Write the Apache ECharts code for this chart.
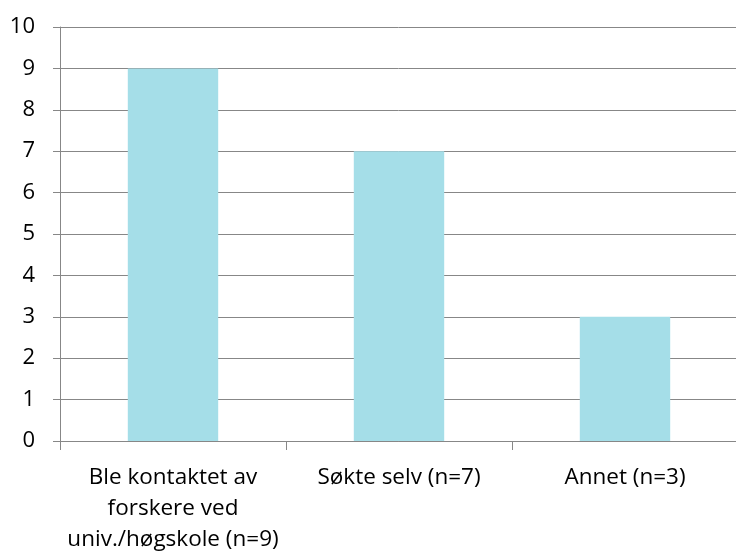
<!DOCTYPE html>
<html>
<head>
<meta charset="utf-8">
<script src="https://cdn.jsdelivr.net/npm/echarts@6/dist/echarts.min.js"></script>
<style>
  html, body { margin: 0; padding: 0; background: #fff; }
  #chart { width: 736px; height: 551px; }
</style>
</head>
<body>
<div id="chart"></div>
<script>
var categories = ['Ble kontaktet av\nforskere ved\nuniv./høgskole (n=9)', 'Søkte selv (n=7)', 'Annet (n=3)'];
var values = [9, 7, 3];

var lineColor = '#878787';
var barColor = '#A5DEE8';
var font = 'Open Sans';

var chart = echarts.init(document.getElementById('chart'));
chart.setOption({
  backgroundColor: '#fff',
  animation: false,
  grid: { left: 60, right: -2, top: 27, bottom: 110, containLabel: false, outerBoundsMode: 'none' },
  xAxis: {
    type: 'category',
    data: categories,
    axisLine: { lineStyle: { color: lineColor, width: 1 } },
    axisTick: { show: true, length: 9, alignWithLabel: false, lineStyle: { color: lineColor } },
    axisLabel: {
      interval: 0,
      margin: 21,
      color: '#000',
      fontFamily: font,
      fontSize: 22.5,
      lineHeight: 31
    }
  },
  yAxis: {
    type: 'value',
    min: 0,
    max: 10,
    interval: 1,
    axisLine: { show: true, lineStyle: { color: lineColor, width: 1 } },
    axisTick: { show: true, length: 7, lineStyle: { color: lineColor } },
    splitLine: { lineStyle: { color: lineColor, width: 1 } },
    axisLabel: {
      margin: 25,
      color: '#000',
      fontFamily: font,
      fontSize: 22
    }
  },
  series: [{
    type: 'bar',
    data: values,
    barWidth: '40%',
    itemStyle: { color: barColor },
    z: 1
  }]
});
</script>
</body>
</html>
